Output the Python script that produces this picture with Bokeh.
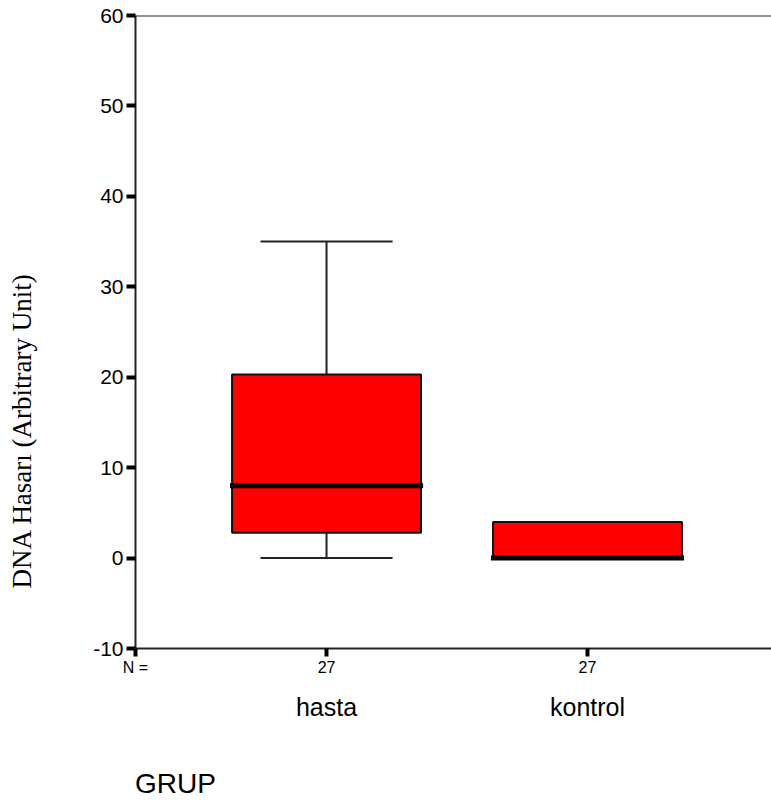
from bokeh.plotting import figure
from bokeh.models import Range1d, FixedTicker, Span, LinearAxis, ColumnDataSource
from bokeh.embed import file_html
from bokeh.resources import INLINE

# ---- data ----
groups = ["hasta", "kontrol"]
n_counts = [27, 27]
lower = [0, 0]
q1 = [2.8, 0]
median = [8, 0]
q3 = [20.3, 4]
upper = [35, 4]
y_ticks = [-10, 0, 10, 20, 30, 40, 50, 60]
y_tick_labels = ["-10", "0", "10", "20", "30", "40", "50", "60"]
n_label = "N ="
x_title = "GRUP"
y_title = "DNA Hasarı (Arbitrary Unit)"

xpos = [i + 1 for i in range(len(groups))]
x_start, x_end = 0.268, 2.705
box_w = 0.724
cap_w = 0.506
med_w = 0.74
x_title_pos = 0.4213   # horizontal anchor of the "GRUP" caption
y_title_pos = 14.1     # vertical anchor of the y caption

p = figure(width=771, height=805, output_backend="svg", toolbar_location=None,
           x_range=Range1d(x_start, x_end), y_range=Range1d(-10, 60),
           min_border_left=135, min_border_right=0, min_border_top=15, min_border_bottom=157)
p.outline_line_color = None
p.grid.visible = False
p.background_fill_color = "white"

# top frame line
p.add_layout(Span(location=60, dimension="width", line_color="#222222", line_width=2))

src = ColumnDataSource(dict(x=xpos, lower=lower, q1=q1, median=median, q3=q3, upper=upper,
                            cl=[x - cap_w / 2 for x in xpos], cr=[x + cap_w / 2 for x in xpos],
                            ml=[x - med_w / 2 for x in xpos], mr=[x + med_w / 2 for x in xpos]))
# whiskers
p.segment(x0="x", y0="q3", x1="x", y1="upper", source=src, line_color="#222222", line_width=2)
p.segment(x0="x", y0="q1", x1="x", y1="lower", source=src, line_color="#222222", line_width=2)
p.segment(x0="cl", y0="upper", x1="cr", y1="upper", source=src, line_color="#222222", line_width=2)
p.segment(x0="cl", y0="lower", x1="cr", y1="lower", source=src, line_color="#222222", line_width=2)
# boxes
p.vbar(x="x", width=box_w, bottom="q1", top="q3", source=src,
       fill_color="#FF0000", line_color="#111111", line_width=2)
# medians
p.segment(x0="ml", y0="median", x1="mr", y1="median", source=src, line_color="black", line_width=5)

def plain(axis):
    axis.axis_line_color = None
    axis.major_tick_line_color = None
    axis.minor_tick_line_color = None
    axis.major_tick_out = 0
    axis.major_tick_in = 0
    axis.major_label_text_color = "black"

# y axis
ya = p.yaxis[0]
ya.ticker = FixedTicker(ticks=y_ticks)
ya.major_label_overrides = {t: s for t, s in zip(y_ticks, y_tick_labels)}
ya.axis_line_width = 2
ya.axis_line_color = "#222222"
ya.major_tick_out = 9
ya.major_tick_in = 0
ya.major_tick_line_width = 4
ya.minor_tick_line_color = None
ya.major_label_text_font = "Liberation Sans"
ya.major_label_text_font_size = "21px"
ya.major_label_text_color = "black"
ya.major_label_standoff = 3

# y caption as an outer axis label
yt = LinearAxis(ticker=FixedTicker(ticks=[y_title_pos]),
                major_label_overrides={y_title_pos: y_title},
                major_label_orientation="vertical")
plain(yt)
yt.major_label_text_font = "Liberation Serif"
yt.major_label_text_font_size = "27px"
yt.major_label_standoff = 53
p.add_layout(yt, "left")

# x axis (N counts)
xa = p.xaxis[0]
xa.ticker = FixedTicker(ticks=[x_start] + xpos)
overrides = {x_start: n_label}
overrides.update({x: str(n) for x, n in zip(xpos, n_counts)})
xa.major_label_overrides = overrides
xa.axis_line_width = 2
xa.axis_line_color = "#222222"
xa.major_tick_out = 8
xa.major_tick_in = 0
xa.major_tick_line_width = 4
xa.minor_tick_line_color = None
xa.major_label_text_font = "Liberation Sans"
xa.major_label_text_font_size = "16px"
xa.major_label_text_color = "black"
xa.major_label_standoff = 2

# group names axis
ga = LinearAxis(ticker=FixedTicker(ticks=xpos),
                major_label_overrides={x: g for x, g in zip(xpos, groups)})
plain(ga)
ga.major_label_text_font = "Liberation Sans"
ga.major_label_text_font_size = "25px"
ga.major_label_standoff = 14
p.add_layout(ga, "below")

# "GRUP" caption axis
gt = LinearAxis(ticker=FixedTicker(ticks=[x_title_pos]),
                major_label_overrides={x_title_pos: x_title})
plain(gt)
gt.major_label_text_font = "Liberation Sans"
gt.major_label_text_font_size = "28px"
gt.major_label_standoff = 44
p.add_layout(gt, "below")

open("out.html", "w").write(file_html(p, INLINE))
